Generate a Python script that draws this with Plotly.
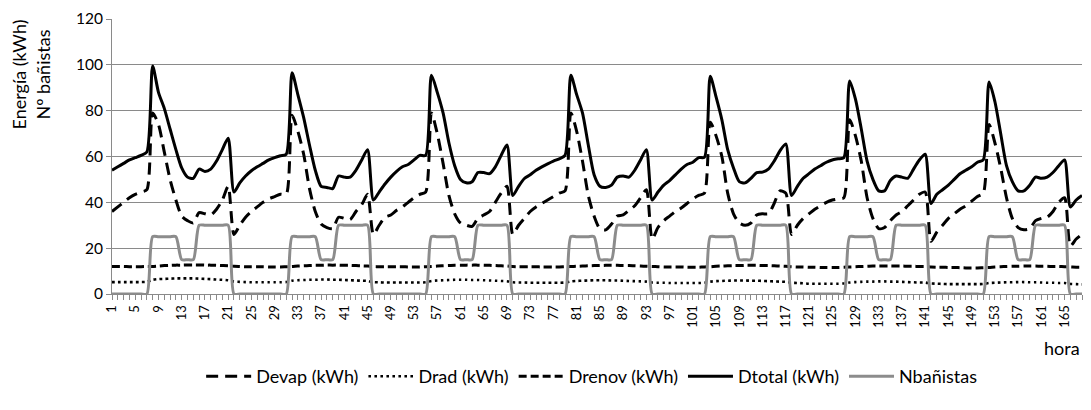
import plotly.graph_objects as go

# hour index (category axis 1..168)
hours = list(range(1, 169))
tick_hours = [h for h in hours if (h - 1) % 4 == 0]
tick_labels = [str(h) for h in tick_hours]

# ---- values (one list of 24 per day) ----
devap_d1 = [36, 38, 40, 42, 43.5, 44.5, 45.5, 79, 74, 62, 50, 41, 34, 32, 31, 35.5, 35, 34.5, 37, 41, 47, 26, 30, 33.5]
devap_d2 = [36, 38, 40, 41.5, 42.5, 43.5, 43.5, 78, 71, 61, 46, 36, 30.5, 29, 28.5, 33.5, 33, 32.5, 36, 39, 43.5, 26, 30, 33.5]
devap_d3 = [34.5, 36.5, 38, 40, 42, 43.5, 44.5, 79, 70, 57, 43, 35, 31, 30, 29.5, 33, 34.5, 36, 40, 44, 47, 26, 30, 33]
devap_d4 = [36, 38, 39.5, 41, 42.5, 44, 45, 79, 71, 58, 43, 34, 28.5, 28, 30.5, 34, 34.5, 36.5, 38.5, 42, 45.5, 24, 29, 32]
devap_d5 = [34, 36, 37.5, 39.5, 41.5, 43, 44, 75, 69, 60, 44, 35, 31, 30, 31, 34.5, 35, 35, 39.5, 45, 44, 26, 30, 33]
devap_d6 = [35, 37, 38.5, 40, 41, 41.5, 42, 76, 69, 58, 42, 33, 28.5, 29, 32, 34.5, 36, 38.5, 41, 43.5, 44.5, 23, 27, 30]
devap_d7 = [33, 35, 37, 38.5, 40.5, 42.5, 44, 74, 66, 55, 42, 33, 29, 28, 28.5, 32, 33, 33.5, 36, 40, 42, 21, 24, 26]

drad_d1 = [5.2, 5.2, 5.2, 5.2, 5.2, 5.2, 5.3, 6.2, 6.5, 6.6, 6.7, 6.8, 6.8, 6.8, 6.8, 6.7, 6.6, 6.5, 6.3, 6.2, 6.0, 5.4, 5.3, 5.2]
drad_d2 = [5.1, 5.1, 5.1, 5.1, 5.1, 5.1, 5.2, 5.8, 6.0, 6.1, 6.2, 6.2, 6.3, 6.3, 6.2, 6.2, 6.1, 6.0, 5.9, 5.8, 5.7, 5.2, 5.1, 5.0]
drad_d3 = [5.0, 5.0, 5.0, 5.0, 5.0, 5.0, 5.1, 5.7, 5.9, 6.0, 6.1, 6.2, 6.2, 6.2, 6.1, 6.1, 6.0, 5.9, 5.8, 5.7, 5.6, 5.1, 5.0, 5.0]
drad_d4 = [4.9, 4.9, 4.9, 4.9, 4.9, 4.9, 5.0, 5.5, 5.7, 5.8, 5.9, 6.0, 6.0, 6.0, 5.9, 5.9, 5.8, 5.7, 5.6, 5.5, 5.4, 5.0, 4.9, 4.9]
drad_d5 = [4.8, 4.8, 4.8, 4.8, 4.8, 4.8, 4.9, 5.4, 5.6, 5.7, 5.8, 5.9, 5.9, 5.9, 5.8, 5.8, 5.7, 5.6, 5.5, 5.4, 5.3, 4.9, 4.8, 4.7]
drad_d6 = [4.5, 4.5, 4.5, 4.5, 4.5, 4.5, 4.6, 5.0, 5.2, 5.3, 5.4, 5.4, 5.5, 5.5, 5.4, 5.4, 5.3, 5.2, 5.1, 5.0, 5.0, 4.6, 4.5, 4.4]
drad_d7 = [4.3, 4.3, 4.3, 4.3, 4.3, 4.3, 4.4, 4.8, 4.9, 5.0, 5.1, 5.1, 5.2, 5.2, 5.1, 5.1, 5.0, 4.9, 4.9, 4.8, 4.8, 4.4, 4.3, 4.2]

drenov_d1 = [12.0, 12.0, 12.0, 11.9, 11.9, 11.9, 12.0, 12.0, 12.2, 12.4, 12.5, 12.6, 12.6, 12.7, 12.7, 12.7, 12.6, 12.6, 12.5, 12.4, 12.3, 12.1, 12.0, 11.9]
drenov_d2 = [11.9, 11.9, 11.9, 11.8, 11.8, 11.8, 11.9, 12.0, 12.2, 12.3, 12.4, 12.5, 12.5, 12.6, 12.6, 12.6, 12.5, 12.5, 12.4, 12.3, 12.2, 12.0, 11.9, 11.9]
drenov_d3 = [11.9, 11.9, 11.9, 11.8, 11.8, 11.8, 11.9, 12.0, 12.2, 12.3, 12.4, 12.5, 12.5, 12.6, 12.6, 12.6, 12.5, 12.5, 12.4, 12.3, 12.2, 12.0, 11.9, 11.9]
drenov_d4 = [11.9, 11.9, 11.8, 11.8, 11.8, 11.8, 11.9, 12.0, 12.1, 12.2, 12.3, 12.4, 12.4, 12.5, 12.5, 12.5, 12.4, 12.4, 12.3, 12.2, 12.1, 12.0, 11.9, 11.8]
drenov_d5 = [11.8, 11.8, 11.8, 11.7, 11.7, 11.7, 11.8, 11.9, 12.1, 12.2, 12.3, 12.4, 12.4, 12.5, 12.5, 12.5, 12.4, 12.4, 12.3, 12.2, 12.1, 11.9, 11.8, 11.8]
drenov_d6 = [11.7, 11.7, 11.6, 11.6, 11.6, 11.6, 11.7, 11.8, 11.9, 12.0, 12.1, 12.2, 12.2, 12.2, 12.2, 12.2, 12.2, 12.1, 12.1, 12.0, 12.0, 11.8, 11.7, 11.7]
drenov_d7 = [11.6, 11.6, 11.5, 11.4, 11.4, 11.4, 11.5, 11.6, 11.8, 11.9, 12.0, 12.1, 12.1, 12.2, 12.2, 12.2, 12.1, 12.1, 12.0, 12.0, 11.9, 11.8, 11.7, 11.7]

dtotal_d1 = [54, 55.5, 57, 58.5, 59.5, 60.5, 62, 99.5, 88, 81, 72, 63, 55, 51, 50.5, 54.5, 53.5, 54.5, 58, 63, 68, 44.5, 48.5, 51.5]
dtotal_d2 = [53.8, 55.5, 57, 58.5, 59.5, 60.3, 61, 96.5, 87, 77, 65, 54, 47, 46.5, 46, 51.5, 51, 51, 54, 58.5, 63, 41, 44.5, 48]
dtotal_d3 = [51, 53.5, 55.5, 56.5, 58.5, 60.5, 60.5, 95.5, 88, 79, 66, 56, 50, 48.5, 49, 53, 53, 52.5, 55.5, 60.5, 65, 43, 47, 50.4]
dtotal_d4 = [52, 54, 55.5, 56.8, 58, 59, 60.5, 95.5, 87, 79, 65, 52, 47, 46.5, 47.5, 51, 51.5, 51, 54, 58.5, 63, 41, 44.5, 47.5]
dtotal_d5 = [49.5, 52, 54.5, 56.5, 57.5, 59.5, 59.7, 95, 86, 76, 63, 55, 49, 48.5, 50.5, 53, 53.2, 54.5, 58, 62.5, 65.5, 43, 47, 50.5]
dtotal_d6 = [52.5, 54.5, 56, 57.5, 58.5, 59, 59.5, 93, 85, 72, 58, 50, 45, 45, 49.5, 51.5, 51, 50.5, 54.5, 58.5, 61, 39.5, 43.5, 45.5]
dtotal_d7 = [47.5, 50, 52.5, 54, 55.5, 57.5, 58.5, 92.5, 84, 70, 56, 49, 45, 45, 47.5, 51, 50.5, 51, 53, 56, 58.5, 38, 41, 43]

nban_d1 = [0, 0, 0, 0, 0, 0, 0, 25, 25, 25, 25, 25, 15, 15, 15, 30, 30, 30, 30, 30, 30, 0, 0, 0]
nban_d2 = [0, 0, 0, 0, 0, 0, 0, 25, 25, 25, 25, 25, 15, 15, 15, 30, 30, 30, 30, 30, 30, 0, 0, 0]
nban_d3 = [0, 0, 0, 0, 0, 0, 0, 25, 25, 25, 25, 25, 15, 15, 15, 30, 30, 30, 30, 30, 30, 0, 0, 0]
nban_d4 = [0, 0, 0, 0, 0, 0, 0, 25, 25, 25, 25, 25, 15, 15, 15, 30, 30, 30, 30, 30, 30, 0, 0, 0]
nban_d5 = [0, 0, 0, 0, 0, 0, 0, 25, 25, 25, 25, 25, 15, 15, 15, 30, 30, 30, 30, 30, 30, 0, 0, 0]
nban_d6 = [0, 0, 0, 0, 0, 0, 0, 25, 25, 25, 25, 25, 15, 15, 15, 30, 30, 30, 30, 30, 30, 0, 0, 0]
nban_d7 = [0, 0, 0, 0, 0, 0, 0, 25, 25, 25, 25, 25, 15, 15, 15, 30, 30, 30, 30, 30, 30, 0, 0, 0]

devap = devap_d1 + devap_d2 + devap_d3 + devap_d4 + devap_d5 + devap_d6 + devap_d7
drad = drad_d1 + drad_d2 + drad_d3 + drad_d4 + drad_d5 + drad_d6 + drad_d7
drenov = drenov_d1 + drenov_d2 + drenov_d3 + drenov_d4 + drenov_d5 + drenov_d6 + drenov_d7
dtotal = dtotal_d1 + dtotal_d2 + dtotal_d3 + dtotal_d4 + dtotal_d5 + dtotal_d6 + dtotal_d7
nbanistas = nban_d1 + nban_d2 + nban_d3 + nban_d4 + nban_d5 + nban_d6 + nban_d7

FONT = "Lato"
GRID = "#8a8a8a"

series = [
    ("Devap (kWh)", devap, "#000000", 3, "12px,7px"),
    ("Drad (kWh)", drad, "#000000", 2.6, "2.6px,3.4px"),
    ("Drenov (kWh)", drenov, "#000000", 3, "8px,4px"),
    ("Dtotal (kWh)", dtotal, "#000000", 3, "solid"),
    ("Nbañistas", nbanistas, "#8c8c8c", 3, "solid"),
]

fig = go.Figure()
for name, vals, color, width, dash in series:
    fig.add_trace(go.Scatter(
        x=hours, y=vals, name=name, mode="lines",
        line=dict(color=color, width=width, dash=dash, shape="spline", smoothing=0.7),
    ))

fig.update_layout(
    width=1091, height=410,
    margin=dict(l=112, r=9, t=16, b=116),
    paper_bgcolor="white", plot_bgcolor="white",
    font=dict(family=FONT, color="#000000"),
    showlegend=True,
    legend=dict(
        orientation="h", x=0.495, xanchor="center", y=-0.30, yanchor="middle",
        font=dict(family=FONT, size=18, color="#000000"),
        itemwidth=45, bgcolor="rgba(0,0,0,0)",
    ),
    xaxis=dict(
        range=[1, 168], tickmode="array", tickvals=tick_hours, ticktext=tick_labels,
        tickangle=-90, ticks="outside", ticklen=5, tickcolor=GRID,
        minor=dict(dtick=1, tick0=1, ticks="outside", ticklen=5, tickcolor=GRID),
        showline=True, linecolor=GRID, linewidth=1, showgrid=False, zeroline=False,
        tickfont=dict(family=FONT, size=13, color="#000000"),
    ),
    yaxis=dict(
        range=[0, 120], dtick=20, tick0=0, showgrid=True, gridcolor=GRID, gridwidth=1,
        showline=True, linecolor=GRID, linewidth=1, ticks="outside", ticklen=5, tickcolor=GRID,
        zeroline=False, tickfont=dict(family=FONT, size=15.5, color="#000000"),
    ),
    annotations=[
        dict(text="Energía (kWh)<br>Nº bañistas", textangle=-90, xref="paper", yref="paper",
             x=-0.083, y=0.80, xanchor="center", yanchor="middle", showarrow=False,
             font=dict(family=FONT, size=18, color="#000000")),
        dict(text="hora", xref="paper", yref="paper", x=1.0, y=-0.198,
             xanchor="right", yanchor="middle", showarrow=False,
             font=dict(family=FONT, size=18, color="#000000")),
    ],
)

fig.write_html("out.html")
